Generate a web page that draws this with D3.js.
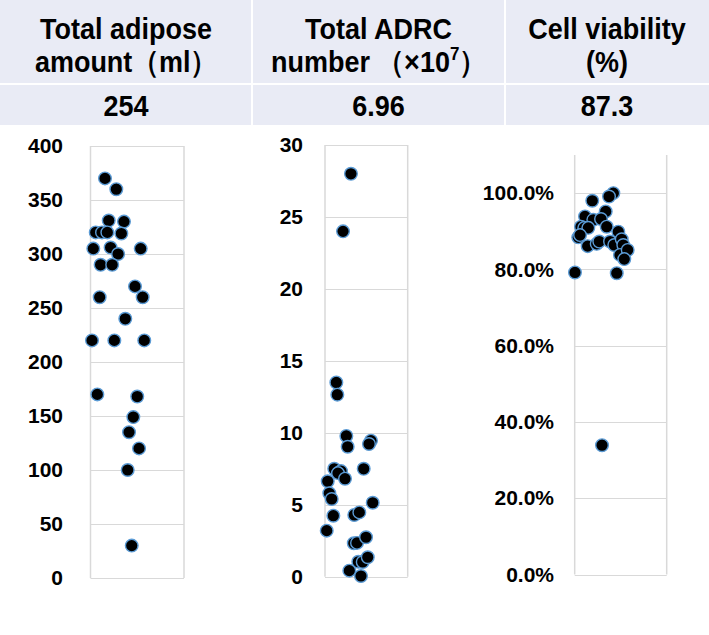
<!DOCTYPE html>
<html><head><meta charset="utf-8">
<script src="https://cdn.jsdelivr.net/npm/d3@7"></script>
<style>
html,body{margin:0;padding:0;background:#fff;}
svg{display:block;font-family:"Liberation Sans",Arial,sans-serif;}
</style></head>
<body><svg id="c" width="709" height="635"></svg>
<script>
// ---- table data ----
const headerLine1 = ["Total adipose", "Total ADRC", "Cell viability"];
const headerLine2 = [[["amount（ml）", false]], [["number （×10", false], ["7", true], ["）", false]], [["(%)", false]]];
const summaryValues = ["254", "6.96", "87.3"];

// ---- panel 1: total adipose amount (ml) ----
const adiposeValues = [370,360,331,330,320,320,320,319,305,306,300,305,290,290,270,260,260,240,220,220,220,170,168,149,135,120,100,30];
const adiposeJitter = [0.155,0.276,0.195,0.358,0.056,0.123,0.180,0.330,0.030,0.215,0.295,0.537,0.108,0.232,0.476,0.098,0.558,0.372,0.016,0.255,0.575,0.073,0.500,0.458,0.412,0.519,0.398,0.441];
const adiposeTicks = [0,50,100,150,200,250,300,350,400];

// ---- panel 2: total ADRC number (x10^7) ----
const adrcValues = [28.0,24.0,13.5,12.65,9.78,9.03,9.45,9.22,7.5,7.34,7.2,6.81,7.5,6.63,5.8,5.4,4.24,3.2,5.14,4.29,4.47,2.32,2.35,2.74,1.04,1.02,1.35,0.42,0.05];
const adrcJitter = [0.314,0.218,0.137,0.149,0.258,0.274,0.556,0.532,0.112,0.193,0.157,0.242,0.468,0.033,0.052,0.081,0.101,0.021,0.577,0.354,0.415,0.348,0.387,0.496,0.403,0.456,0.517,0.294,0.435];
const adrcTicks = [0,5,10,15,20,25,30];

// ---- panel 3: cell viability ----
const viabilityValues = [1.000,0.991,0.980,0.952,0.939,0.930,0.932,0.912,0.909,0.909,0.912,0.899,0.884,0.890,0.861,0.867,0.873,0.873,0.864,0.879,0.864,0.838,0.851,0.827,0.792,0.790,0.339];
const viabilityJitter = [0.420,0.373,0.191,0.337,0.112,0.202,0.286,0.068,0.104,0.148,0.348,0.474,0.039,0.058,0.141,0.239,0.267,0.384,0.430,0.511,0.528,0.492,0.576,0.539,0.003,0.457,0.297];
const viabilityTicks = [0,0.2,0.4,0.6,0.8,1.0];

const svg = d3.select("#c");

// ---- table ----
const colEdges = [0, 252, 505, 709];
const rowEdges = [0, 84, 126];
const cellFill = "#e9ebf5";
for (let r = 0; r < 2; r++) {
  for (let c = 0; c < 3; c++) {
    svg.append("rect")
      .attr("x", colEdges[c] + (c > 0 ? 1 : 0))
      .attr("y", rowEdges[r] + (r > 0 ? 1 : 0))
      .attr("width", colEdges[c+1] - colEdges[c] - (c > 0 ? 1 : 0) - (c < 2 ? 1 : 0))
      .attr("height", rowEdges[r+1] - rowEdges[r] - (r > 0 ? 1 : 0) - 1)
      .attr("fill", cellFill);
  }
}
const hdrFont = 27;
const vs = 1.1;
function addText(cx, base) {
  return svg.append("text")
    .attr("transform", `translate(${cx},${base}) scale(1,${vs})`)
    .attr("text-anchor", "middle")
    .attr("font-size", hdrFont).attr("font-weight", "bold").attr("fill", "#000");
}
headerLine1.forEach((t, i) => {
  const cx = (colEdges[i] + colEdges[i+1]) / 2;
  addText(cx, 39).text(t);
  const t2 = addText(cx, 72);
  let afterSup = false;
  headerLine2[i].forEach(([s, sup]) => {
    if (sup) {
      t2.append("tspan").attr("font-size", 17).attr("dy", -11).text(s);
      afterSup = true;
    } else {
      const ts = t2.append("tspan").text(s);
      if (afterSup) { ts.attr("dy", 11); afterSup = false; }
    }
  });
  addText(cx, 116).text(summaryValues[i]);
});

// ---- panels ----
const panels = [
  {values: adiposeValues, jitter: adiposeJitter, ticks: adiposeTicks, domain: [0, 400], x0: 90.5, x1: 184, yTop: 146, yBot: 578, labelRight: 63, fmt: d3.format("d")},
  {values: adrcValues, jitter: adrcJitter, ticks: adrcTicks, domain: [0, 30], x0: 325, x1: 407.7, yTop: 145, yBot: 576.7, labelRight: 303, fmt: d3.format("d")},
  {values: viabilityValues, jitter: viabilityJitter, ticks: viabilityTicks, domain: [0, 1.1], x0: 574.7, x1: 666.7, yTop: 155, yBot: 574.5, labelRight: 554, fmt: d3.format(".1%")}
];

const gridCol = "#d9d9d9";
panels.forEach(p => {
  const y = d3.scaleLinear().domain(p.domain).range([p.yBot, p.yTop]);
  const x = d3.scaleLinear().domain([0, 1]).range([p.x0, p.x1]);
  const g = svg.append("g");
  g.selectAll("line.grid").data(p.ticks).enter().append("line")
    .attr("x1", p.x0).attr("x2", p.x1)
    .attr("y1", d => Math.round(y(d)) + 0.5).attr("y2", d => Math.round(y(d)) + 0.5)
    .attr("stroke", gridCol).attr("stroke-width", 1.2);
  [p.x0, p.x1].forEach(xx => {
    g.append("line").attr("x1", xx).attr("x2", xx).attr("y1", p.yTop).attr("y2", p.yBot)
      .attr("stroke", gridCol).attr("stroke-width", 1.5);
  });
  const ax = d3.axisLeft(y).tickValues(p.ticks).tickFormat(p.fmt).tickSize(0).tickPadding(p.x0 - p.labelRight);
  const axG = svg.append("g").attr("transform", `translate(${p.x0},0)`).call(ax);
  axG.select(".domain").remove();
  axG.selectAll("text").attr("font-size", 21).attr("font-weight", "bold").attr("fill", "#000")
    .attr("font-family", '"Liberation Sans",Arial,sans-serif');
  g.selectAll("circle").data(p.values).enter().append("circle")
    .attr("cx", (d, i) => x(p.jitter[i]))
    .attr("cy", d => y(d))
    .attr("r", 6.3)
    .attr("fill", "#000")
    .attr("stroke", "#5b9bd5")
    .attr("stroke-width", 1.4);
});
</script></body></html>
